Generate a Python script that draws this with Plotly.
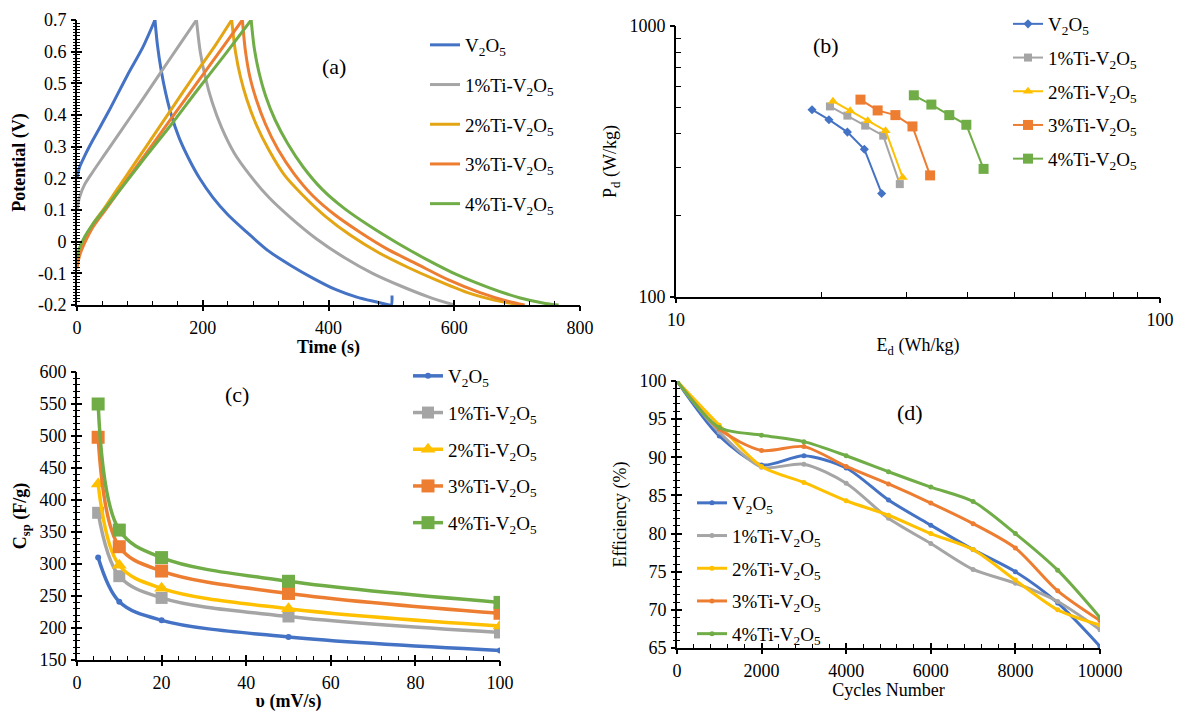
import plotly.graph_objects as go

FONT = "Liberation Serif, DejaVu Serif, serif"

# ---------------- series labels and colours ----------------
series_names = [
    "V<sub>2</sub>O<sub>5</sub>",
    "1%Ti-V<sub>2</sub>O<sub>5</sub>",
    "2%Ti-V<sub>2</sub>O<sub>5</sub>",
    "3%Ti-V<sub>2</sub>O<sub>5</sub>",
    "4%Ti-V<sub>2</sub>O<sub>5</sub>",
]
colors_gcd = ["#4472C4", "#A5A5A5", "#E3A514", "#ED7D31", "#70AD47"]
colors = ["#4472C4", "#A5A5A5", "#FFC000", "#ED7D31", "#70AD47"]

# ---------------- (a) galvanostatic charge / discharge ----------------
t_chg_v2o5 = [0, 4, 12, 25, 50, 80, 105, 124]
u_chg_v2o5 = [0.20, 0.235, 0.27, 0.32, 0.41, 0.525, 0.615, 0.70]
t_dis_v2o5 = [124, 128, 134, 141, 150, 162, 177, 195, 216, 240, 270, 305, 340, 375, 410, 445, 475, 497, 500, 501]
u_dis_v2o5 = [0.70, 0.62, 0.54, 0.47, 0.40, 0.33, 0.265, 0.20, 0.14, 0.085, 0.03, -0.03, -0.075, -0.115, -0.15, -0.175, -0.19, -0.20, -0.20, -0.17]

t_chg_ti1 = [0, 4, 12, 25, 45, 70, 100, 130, 160, 190]
u_chg_ti1 = [0.10, 0.14, 0.18, 0.22, 0.278, 0.35, 0.437, 0.525, 0.613, 0.70]
t_dis_ti1 = [190, 196, 204, 215, 230, 250, 275, 305, 340, 380, 425, 470, 515, 560, 600]
u_dis_ti1 = [0.70, 0.60, 0.52, 0.44, 0.36, 0.28, 0.21, 0.14, 0.075, 0.01, -0.05, -0.10, -0.14, -0.175, -0.20]

t_chg_ti2 = [0, 4, 12, 25, 45, 75, 110, 150, 190, 220, 246]
u_chg_ti2 = [-0.07, -0.03, 0.01, 0.055, 0.11, 0.198, 0.30, 0.418, 0.535, 0.62, 0.70]
t_dis_ti2 = [246, 252, 260, 270, 285, 305, 330, 360, 395, 435, 480, 525, 570, 620, 665, 705]
u_dis_ti2 = [0.70, 0.60, 0.52, 0.45, 0.37, 0.29, 0.21, 0.145, 0.08, 0.02, -0.035, -0.08, -0.12, -0.16, -0.185, -0.20]

t_chg_ti3 = [0, 4, 12, 25, 45, 75, 110, 150, 190, 230, 263]
u_chg_ti3 = [-0.085, -0.045, -0.005, 0.045, 0.10, 0.183, 0.279, 0.389, 0.499, 0.609, 0.70]
t_dis_ti3 = [263, 268, 275, 285, 300, 320, 345, 375, 410, 450, 495, 540, 590, 640, 685, 712]
u_dis_ti3 = [0.70, 0.60, 0.52, 0.45, 0.37, 0.29, 0.215, 0.145, 0.085, 0.03, -0.025, -0.07, -0.12, -0.16, -0.188, -0.20]

t_chg_ti4 = [0, 4, 12, 25, 45, 75, 110, 150, 190, 235, 277]
u_chg_ti4 = [-0.05, -0.02, 0.015, 0.055, 0.105, 0.18, 0.27, 0.37, 0.475, 0.59, 0.70]
t_dis_ti4 = [277, 282, 290, 300, 315, 335, 360, 390, 425, 465, 510, 555, 605, 655, 705, 745, 766]
u_dis_ti4 = [0.70, 0.61, 0.53, 0.46, 0.385, 0.31, 0.235, 0.165, 0.105, 0.05, -0.005, -0.055, -0.105, -0.145, -0.178, -0.195, -0.20]

# ---------------- (b) Ragone plot ----------------
ed_v2o5 = [19.1, 20.7, 22.6, 24.5, 26.6]
pd_v2o5 = [491, 451, 406, 351, 241]
ed_ti1 = [20.8, 22.6, 24.6, 26.8, 29.0]
pd_ti1 = [505, 467, 429, 394, 261]
ed_ti2 = [21.1, 22.9, 24.9, 27.1, 29.4]
pd_ti2 = [528, 487, 447, 411, 276]
ed_ti3 = [24.05, 26.1, 28.4, 30.8, 33.5]
pd_ti3 = [535, 488, 469, 426, 281]
ed_ti4 = [31.0, 33.7, 36.7, 39.8, 43.2]
pd_ti4 = [555, 513, 469, 432, 297]

# ---------------- (c) specific capacitance vs scan rate ----------------
scan_rate = [5, 10, 20, 50, 100]
csp_v2o5 = [310, 241, 212, 186, 165]
csp_ti1 = [380, 281, 247, 218, 193]
csp_ti2 = [425, 298, 262, 230, 203]
csp_ti3 = [498, 327, 289, 254, 223]
csp_ti4 = [550, 353, 310, 273, 240]

# ---------------- (d) cycling stability ----------------
cycles = [0, 1000, 2000, 3000, 4000, 5000, 6000, 7000, 8000, 9000, 10000]
eff_v2o5 = [100, 92.8, 89.0, 90.2, 88.6, 84.4, 81.1, 77.9, 75.0, 70.9, 65.2]
eff_ti1 = [100, 93.3, 88.7, 89.1, 86.6, 82.0, 78.7, 75.3, 73.5, 71.1, 67.4]
eff_ti2 = [100, 94.2, 88.8, 86.7, 84.3, 82.4, 80.0, 77.9, 73.9, 70.0, 68.0]
eff_ti3 = [100, 93.7, 90.9, 91.4, 88.8, 86.5, 84.0, 81.3, 78.1, 72.5, 68.6]
eff_ti4 = [100, 93.9, 92.9, 92.05, 90.2, 88.1, 86.1, 84.2, 80.0, 75.2, 69.0]

# tick labels of the potential axis (hyphen minus as printed)
pot_ticks = [0.7, 0.6, 0.5, 0.4, 0.3, 0.2, 0.1, 0, -0.1, -0.2]
pot_labels = ["0.7", "0.6", "0.5", "0.4", "0.3", "0.2", "0.1", "0", "-0.1", "-0.2"]

fig = go.Figure()

# (a)
gcd = [
    (t_chg_v2o5, u_chg_v2o5, t_dis_v2o5, u_dis_v2o5),
    (t_chg_ti1, u_chg_ti1, t_dis_ti1, u_dis_ti1),
    (t_chg_ti2, u_chg_ti2, t_dis_ti2, u_dis_ti2),
    (t_chg_ti3, u_chg_ti3, t_dis_ti3, u_dis_ti3),
    (t_chg_ti4, u_chg_ti4, t_dis_ti4, u_dis_ti4),
]
for i, (tc, uc, td, ud) in enumerate(gcd):
    for k, (tx, uy) in enumerate([(tc, uc), (td, ud)]):
        fig.add_trace(go.Scatter(
            x=tx, y=uy, mode="lines", name=series_names[i],
            line=dict(color=colors_gcd[i], width=3, shape="spline", smoothing=0.8),
            xaxis="x", yaxis="y", legend="legend", legendgroup=f"a{i}",
            showlegend=(k == 0),
        ))

# (b)
ragone = [(ed_v2o5, pd_v2o5), (ed_ti1, pd_ti1), (ed_ti2, pd_ti2), (ed_ti3, pd_ti3), (ed_ti4, pd_ti4)]
sym_b = ["diamond", "square", "triangle-up", "square", "square"]
size_b = [7, 8, 9, 10, 10]
for i, (ex, py) in enumerate(ragone):
    fig.add_trace(go.Scatter(
        x=ex, y=py, mode="lines+markers", name=series_names[i],
        line=dict(color=colors[i], width=2),
        marker=dict(symbol=sym_b[i], size=size_b[i], color=colors[i]),
        xaxis="x2", yaxis="y2", legend="legend2", legendgroup=f"b{i}",
    ))

# (c)
csp = [csp_v2o5, csp_ti1, csp_ti2, csp_ti3, csp_ti4]
sym_c = ["circle", "square", "triangle-up", "square", "square"]
size_c = [6, 12, 13, 13, 13]
for i, cy in enumerate(csp):
    fig.add_trace(go.Scatter(
        x=scan_rate, y=cy, mode="lines+markers", name=series_names[i],
        line=dict(color=colors[i], width=3.5, shape="spline", smoothing=1.0),
        marker=dict(symbol=sym_c[i], size=size_c[i], color=colors[i]),
        xaxis="x3", yaxis="y3", legend="legend3", legendgroup=f"c{i}",
    ))

# (d)
eff = [eff_v2o5, eff_ti1, eff_ti2, eff_ti3, eff_ti4]
for i, ey in enumerate(eff):
    fig.add_trace(go.Scatter(
        x=cycles, y=ey, mode="lines+markers", name=series_names[i],
        line=dict(color=colors[i], width=3, shape="spline", smoothing=0.8),
        marker=dict(symbol="circle", size=5, color=colors[i]),
        xaxis="x4", yaxis="y4", legend="legend4", legendgroup=f"d{i}",
    ))

# empty traces that carry the outward half of the crossing tick marks
for n in range(5, 9):
    fig.add_trace(go.Scatter(x=[], y=[], xaxis=f"x{n}", yaxis=f"y{n}", showlegend=False))

tick_font = dict(family=FONT, size=18, color="black")
title_font = dict(family=FONT, size=18, color="black")


def axis(domain, anchor, rng, **kw):
    d = dict(domain=domain, anchor=anchor, range=rng, showgrid=False, zeroline=False,
             automargin=False, showline=True, linecolor="black", linewidth=1.8,
             ticks="inside", ticklen=5, tickwidth=1.6, tickcolor="black",
             tickfont=tick_font, title_font=title_font, ticklabelstandoff=5)
    d.update(kw)
    return d


def overlay(base, anchor, rng, **kw):
    d = dict(overlaying=base, anchor=anchor, range=rng, showgrid=False, zeroline=False,
             automargin=False, showline=False, showticklabels=False, ticks="outside",
             ticklen=5, tickwidth=1.6, tickcolor="black")
    d.update(kw)
    return d


W, H = 1192, 712
dom_ax = [77 / W, 580 / W]
dom_ay = [1 - 305 / H, 1 - 20 / H]
dom_bx = [676 / W, 1160 / W]
dom_by = [1 - 297 / H, 1 - 26 / H]
dom_cx = [77 / W, 500 / W]
dom_cy = [1 - 660 / H, 1 - 372 / H]
dom_dx = [677 / W, 1100 / W]
dom_dy = [1 - 648 / H, 1 - 381 / H]


def minor_in(dt, ln=4):
    return dict(dtick=dt, ticks="inside", ticklen=ln, tickwidth=1.2, tickcolor="black", showgrid=False)


layout = dict(
    width=W, height=H, margin=dict(l=0, r=0, t=0, b=0, autoexpand=False),
    paper_bgcolor="white", plot_bgcolor="white",
    font=dict(family=FONT, size=18, color="black"),
    # (a)
    xaxis=axis(dom_ax, "y", [0, 800], dtick=200, minor=minor_in(40),
               title=dict(text="<b>Time (s)</b>", standoff=4)),
    yaxis=axis(dom_ay, "x", [-0.2, 0.7], tickmode="array", tickvals=pot_ticks, ticktext=pot_labels,
               minor=minor_in(0.01, 3), title=dict(text="<b>Potential (V)</b>", standoff=8)),
    xaxis5=overlay("x", "y", [0, 800], dtick=200),
    yaxis5=overlay("y", "x", [-0.2, 0.7], dtick=0.1,
                   minor=dict(dtick=0.01, ticks="outside", ticklen=3, tickwidth=1.2, tickcolor="black")),
    # (b)
    xaxis2=axis(dom_bx, "y2", [1, 2], type="log", tickmode="array", tickvals=[10, 100],
                minor=dict(tickmode="array", tickvals=[20, 30, 40, 50, 60, 70, 80, 90], ticks="inside",
                           ticklen=5, tickwidth=1.2, tickcolor="black"),
                title=dict(text="E<sub>d</sub> (Wh/kg)", standoff=10)),
    yaxis2=axis(dom_by, "x2", [2, 3], type="log", tickmode="array", tickvals=[100, 1000],
                minor=dict(tickmode="array", tickvals=[200, 300, 400, 500, 600, 700, 800, 900], ticks="inside",
                           ticklen=5, tickwidth=1.2, tickcolor="black"),
                title=dict(text="P<sub>d</sub> (W/kg)", standoff=8)),
    xaxis6=overlay("x2", "y2", [1, 2], type="log", tickmode="array", tickvals=[10, 100]),
    yaxis6=overlay("y2", "x2", [2, 3], type="log", tickmode="array", tickvals=[100, 1000]),
    # (c)
    xaxis3=axis(dom_cx, "y3", [0, 100], dtick=20, minor=minor_in(4),
                title=dict(text="<b>υ (mV/s)</b>", standoff=4)),
    yaxis3=axis(dom_cy, "x3", [150, 600], dtick=50, minor=minor_in(10, 3),
                title=dict(text="<b>C<sub>sp</sub> (F/g)</b>", standoff=8)),
    xaxis7=overlay("x3", "y3", [0, 100], dtick=20),
    yaxis7=overlay("y3", "x3", [150, 600], dtick=50,
                   minor=dict(dtick=10, ticks="outside", ticklen=3, tickwidth=1.2, tickcolor="black")),
    # (d)
    xaxis4=axis(dom_dx, "y4", [0, 10000], dtick=2000, tickformat="d", minor=minor_in(400),
                title=dict(text="Cycles Number", standoff=4)),
    yaxis4=axis(dom_dy, "x4", [65, 100], dtick=5, minor=minor_in(1, 3),
                title=dict(text="Efficiency (%)", standoff=8)),
    xaxis8=overlay("x4", "y4", [0, 10000], dtick=2000),
    yaxis8=overlay("y4", "x4", [65, 100], dtick=5,
                   minor=dict(dtick=1, ticks="outside", ticklen=3, tickwidth=1.2, tickcolor="black")),
)

leg_common = dict(bgcolor="rgba(0,0,0,0)", font=dict(family=FONT, size=19, color="black"),
                  xanchor="left", yanchor="top", itemwidth=30)
layout["legend"] = dict(leg_common, x=425 / W, y=1 - 26 / H, tracegroupgap=12)
layout["legend2"] = dict(leg_common, x=1008 / W, y=1 - 5 / H, tracegroupgap=6)
layout["legend3"] = dict(leg_common, x=408 / W, y=1 - 357 / H, tracegroupgap=9)
layout["legend4"] = dict(leg_common, x=692 / W, y=1 - 484 / H, tracegroupgap=5)

fig.update_layout(**layout)

label_font = dict(family=FONT, size=22, color="black")
for txt, px, py in [("(a)", 320, 52), ("(b)", 841, 31), ("(c)", 223, 394), ("(d)", 925, 412)]:
    fig.add_annotation(text=txt, x=px / W, y=1 - py / H, xref="paper", yref="paper",
                       showarrow=False, font=label_font)

fig.write_html("out.html")
